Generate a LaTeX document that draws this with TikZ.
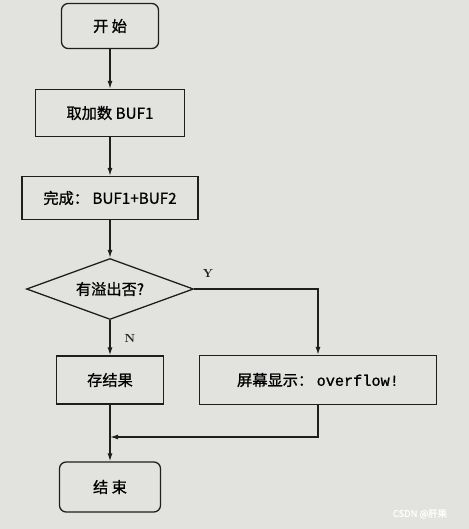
\documentclass[tikz,border=0pt]{standalone}
\usepackage{fontspec}
\newfontfamily\cjk[FakeBold=1]{Noto Sans CJK SC}
\newfontfamily\monofont[FakeBold=1]{Liberation Mono}
\usepackage{xcolor}
\usetikzlibrary{arrows.meta,shapes.geometric}
\definecolor{paper}{RGB}{226,226,222}
\definecolor{ink}{RGB}{30,30,30}
\tikzset{
    termbox/.style={draw=ink, line width=1.1pt, rounded corners=2mm, inner sep=0pt, font=\cjk\fontsize{13}{15}\selectfont},
    procbox/.style={draw=ink, line width=1.1pt, rectangle, inner sep=0pt, font=\cjk\fontsize{13}{15}\selectfont},
    decide/.style={draw=ink, line width=1.1pt, diamond, aspect=2.7, inner sep=0pt, font=\cjk\fontsize{13}{15}\selectfont},
    flow/.style={draw=ink, line width=1.1pt, -{Latex[length=2.4mm,width=1.5mm]}},
    yn/.style={font=\bfseries, text=ink}}

\begin{document}
\begin{tikzpicture}[x=0.3mm,y=-0.3mm]
\fill[paper] (0,0) rectangle (469,529);
\useasboundingbox (0,0) rectangle (469,529);

%main column
\node[termbox, minimum width=29.1mm, minimum height=13.5mm] (start) at (110,26) {开 始};
\node[procbox, minimum width=44.7mm, minimum height=14.1mm] (get) at (110,113) {取加数 BUF1};
\node[procbox, minimum width=52.8mm, minimum height=12.9mm] (add) at (110,198) {完成：\ BUF1+BUF2};
\node[decide, minimum width=50.1mm, minimum height=18.3mm] (chk) at (110,289) {有溢出否?};
\node[procbox, minimum width=32.1mm, minimum height=14.4mm] (save) at (110,380) {存结果};
\node[termbox, minimum width=30.3mm, minimum height=15mm] (stop) at (110,487) {结 束};

%overflow branch
\node[procbox, minimum width=71.1mm, minimum height=14.7mm] (show) at (318,380) {屏幕显示：\ {\monofont overflow!}};
\coordinate (join) at (110,437);

\draw[flow] (start) -- (get);
\draw[flow] (get) -- (add);
\draw[flow] (add) -- (chk);
\draw[flow] (chk) -- (save);
\draw[flow] (save) -- (stop);
\draw[flow] (chk.east) -| (show.north);
\draw[flow] (show.south) |- (join);

\node[yn] (yes) at (208,273) {Y};
\node[yn] (no) at (130,338) {N};

\node[font=\cjk\fontsize{8}{9}\selectfont, text=white] (mark) at (420,514) {CSDN @肝果};
\end{tikzpicture}
\end{document}
